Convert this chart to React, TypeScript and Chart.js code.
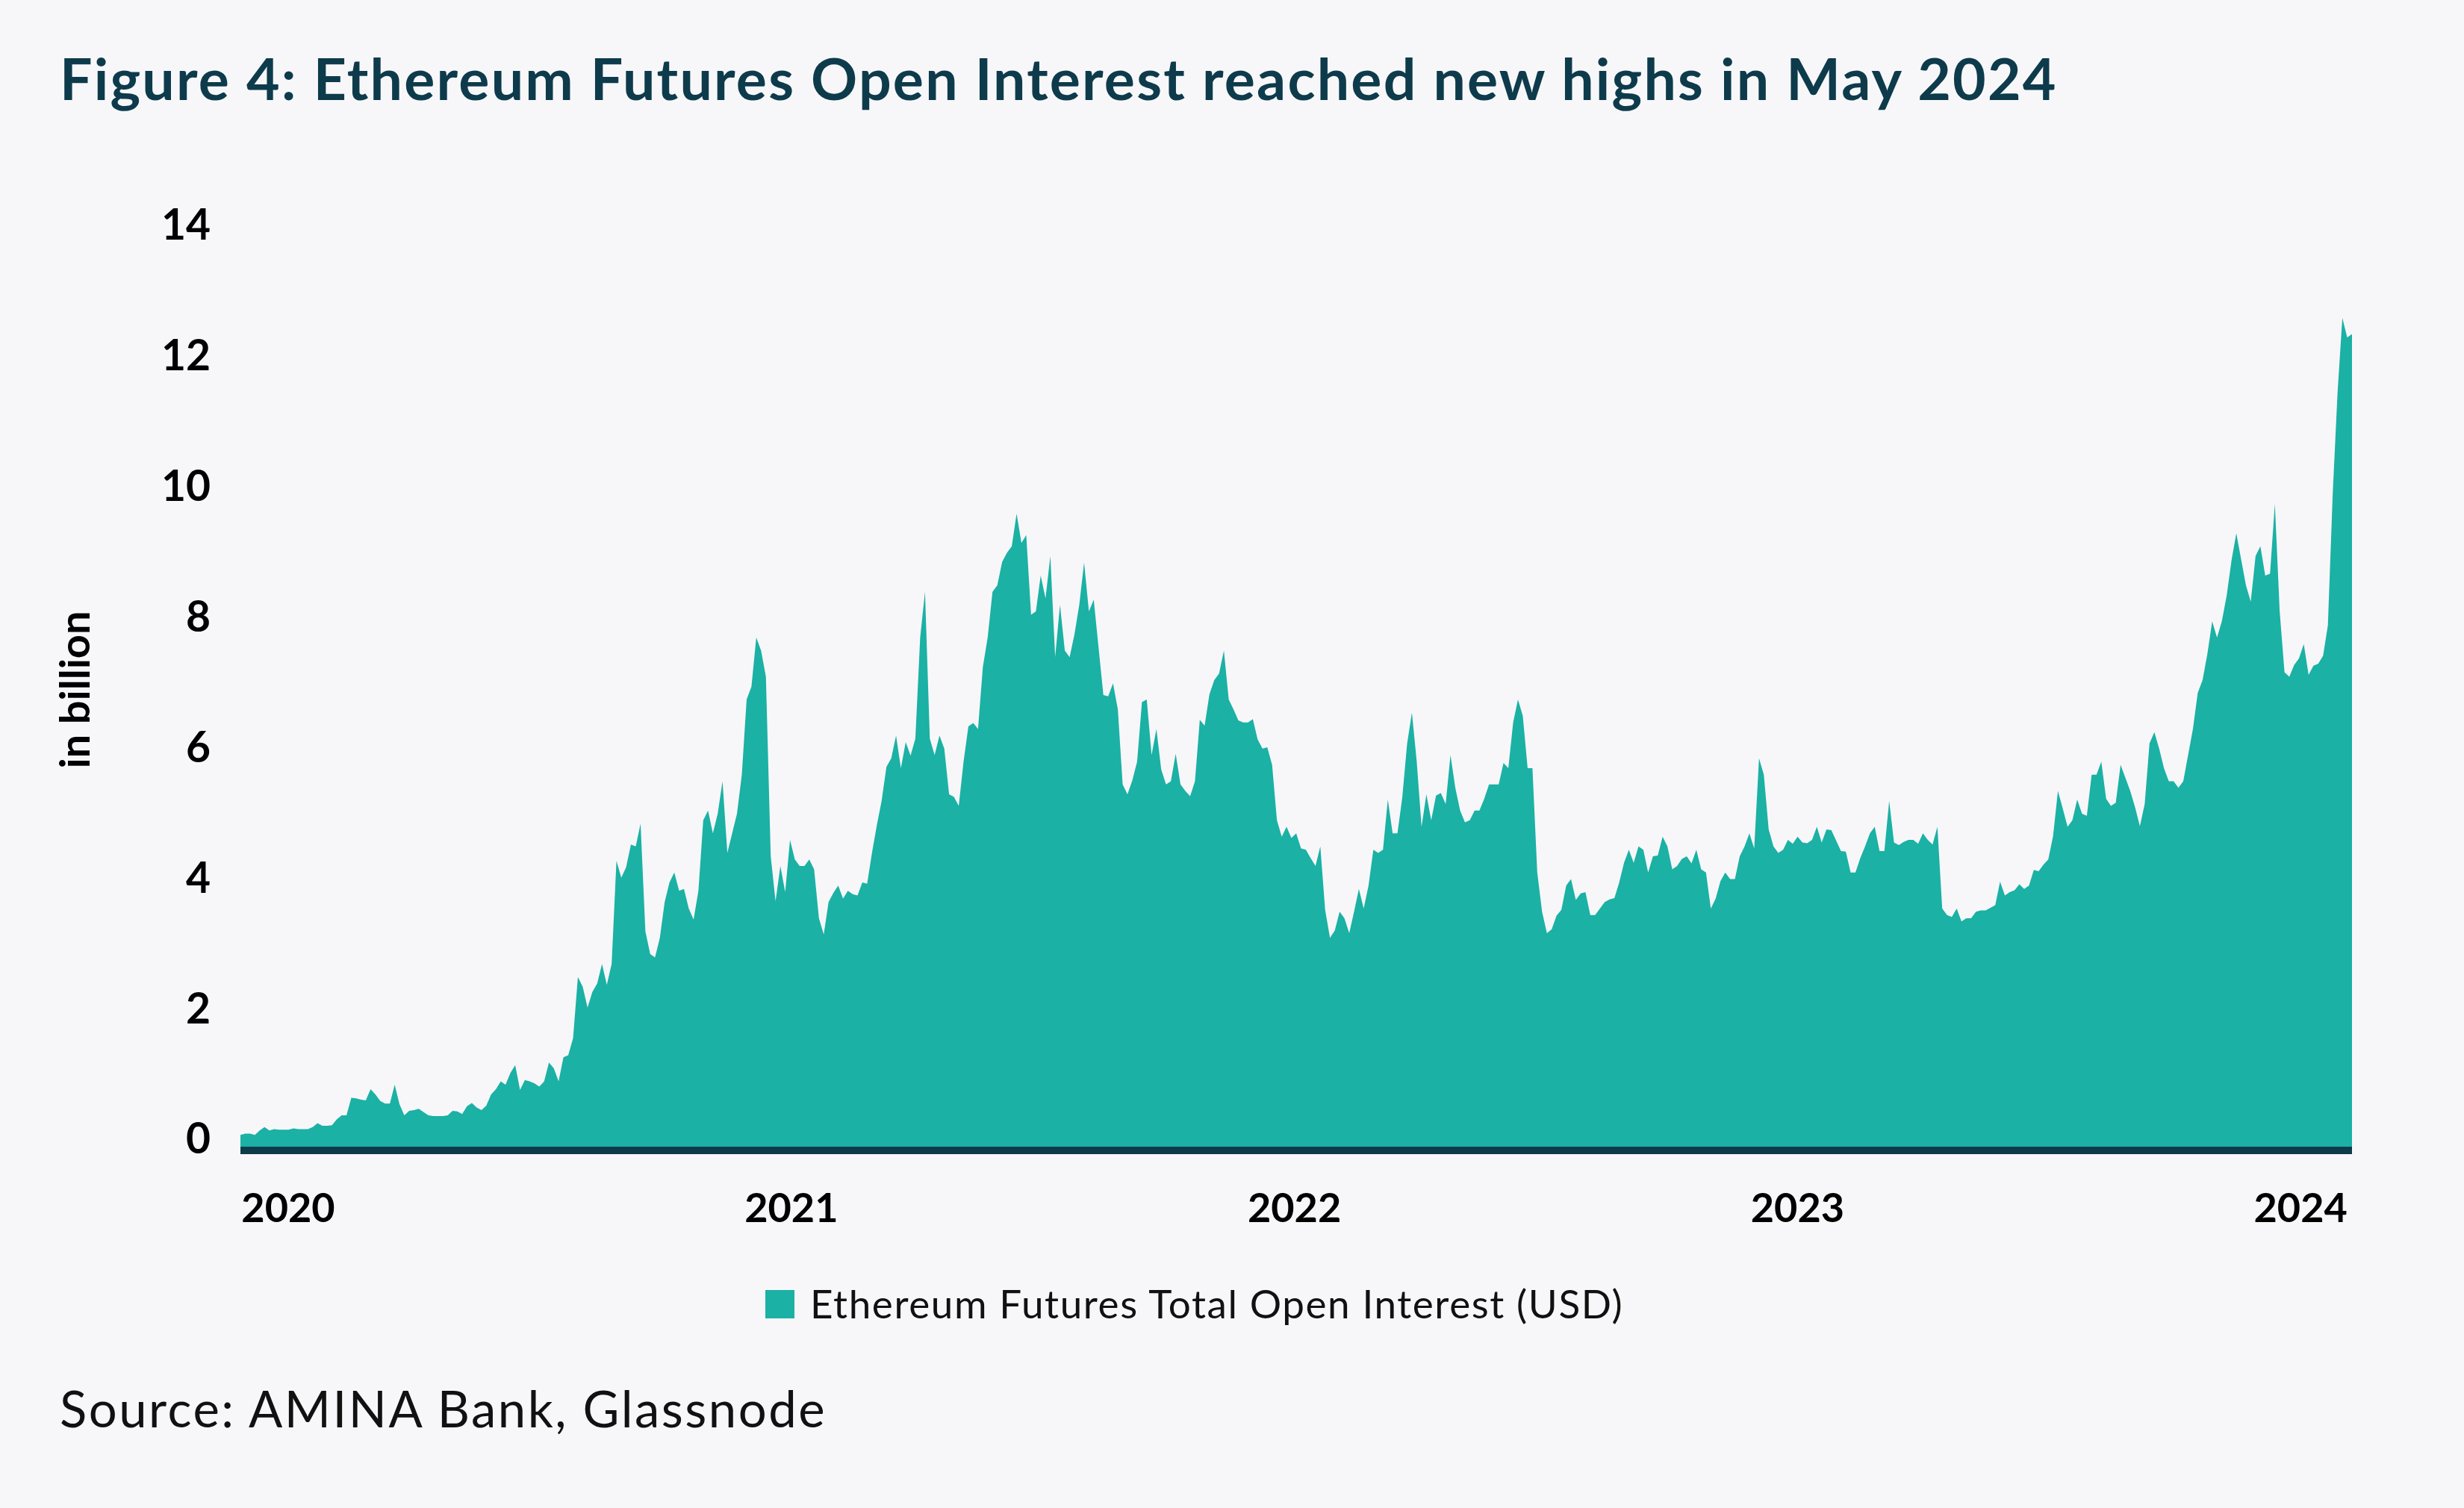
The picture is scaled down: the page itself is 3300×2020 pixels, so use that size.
import React, { useEffect, useRef } from "react";
import { Chart, registerables } from "chart.js";
Chart.register(...registerables);

const TITLE = "Figure 4: Ethereum Futures Open Interest reached new highs in May 2024";
const SERIES_LABEL = "Ethereum Futures Total Open Interest (USD)";
const SOURCE = "Source: AMINA Bank, Glassnode";
const Y_TITLE = "in billion";

// half-weekly samples (every 3.5 days), in USD billion
const startYear = 2019.905;
const stepYears = 3.5 / 365.25;
const yearTicks = [2020, 2021, 2022, 2023, 2024];
const yMin = 0;
const yMax = 14;
const yStep = 2;

const openInterest = [
  0.18, 0.20, 0.20, 0.18, 0.25, 0.30, 0.25, 0.27, 0.26, 0.26,
  0.26, 0.28, 0.27, 0.27, 0.27, 0.30, 0.36, 0.32, 0.32, 0.33,
  0.42, 0.48, 0.48, 0.75, 0.74, 0.72, 0.71, 0.88, 0.80, 0.70,
  0.66, 0.66, 0.95, 0.65, 0.48, 0.55, 0.56, 0.58, 0.53, 0.48,
  0.47, 0.47, 0.47, 0.48, 0.55, 0.54, 0.50, 0.62, 0.67, 0.60,
  0.56, 0.63, 0.80, 0.88, 1.00, 0.95, 1.13, 1.25, 0.87, 1.02,
  1.00, 0.97, 0.92, 1.00, 1.29, 1.20, 1.00, 1.37, 1.40, 1.66,
  2.60, 2.45, 2.13, 2.37, 2.50, 2.80, 2.48, 2.80, 4.38, 4.12,
  4.28, 4.63, 4.60, 4.95, 3.30, 2.95, 2.90, 3.20, 3.75, 4.05,
  4.20, 3.92, 3.95, 3.65, 3.48, 3.92, 5.00, 5.15, 4.80, 5.10,
  5.60, 4.50, 4.80, 5.10, 5.70, 6.85, 7.05, 7.80, 7.60, 7.20,
  4.45, 3.76, 4.30, 3.90, 4.70, 4.40, 4.30, 4.30, 4.40, 4.25,
  3.50, 3.25, 3.75, 3.89, 4.00, 3.80, 3.92, 3.87, 3.85, 4.05,
  4.03, 4.50, 4.92, 5.30, 5.82, 5.95, 6.30, 5.80, 6.20, 5.99,
  6.25, 7.80, 8.50, 6.25, 6.00, 6.30, 6.10, 5.40, 5.36, 5.22,
  5.90, 6.44, 6.49, 6.40, 7.35, 7.80, 8.50, 8.60, 8.96, 9.10,
  9.20, 9.70, 9.25, 9.37, 8.15, 8.20, 8.75, 8.40, 9.05, 7.50,
  8.30, 7.60, 7.50, 7.85, 8.30, 8.95, 8.20, 8.38, 7.65, 6.92,
  6.90, 7.10, 6.70, 5.55, 5.40, 5.61, 5.90, 6.81, 6.85, 6.00,
  6.40, 5.78, 5.55, 5.60, 6.02, 5.55, 5.45, 5.37, 5.60, 6.54,
  6.45, 6.93, 7.15, 7.25, 7.60, 6.85, 6.70, 6.53, 6.50, 6.50,
  6.55, 6.24, 6.10, 6.12, 5.85, 5.00, 4.75, 4.90, 4.73, 4.80,
  4.57, 4.55, 4.42, 4.30, 4.60, 3.63, 3.20, 3.31, 3.60, 3.50,
  3.27, 3.60, 3.95, 3.65, 4.00, 4.55, 4.50, 4.55, 5.32, 4.80,
  4.80, 5.35, 6.17, 6.65, 5.90, 4.90, 5.40, 5.00, 5.38, 5.42,
  5.25, 6.00, 5.50, 5.15, 4.97, 5.00, 5.15, 5.15, 5.33, 5.55,
  5.55, 5.55, 5.88, 5.80, 6.50, 6.85, 6.60, 5.80, 5.80, 4.20,
  3.60, 3.27, 3.33, 3.54, 3.63, 4.00, 4.10, 3.78, 3.88, 3.90,
  3.55, 3.55, 3.65, 3.75, 3.79, 3.81, 4.05, 4.35, 4.55, 4.35,
  4.60, 4.55, 4.20, 4.45, 4.46, 4.75, 4.60, 4.25, 4.30, 4.41,
  4.45, 4.34, 4.55, 4.25, 4.20, 3.65, 3.80, 4.07, 4.20, 4.10,
  4.10, 4.45, 4.60, 4.80, 4.57, 5.95, 5.70, 4.86, 4.60, 4.50,
  4.55, 4.70, 4.64, 4.75, 4.66, 4.65, 4.70, 4.90, 4.66, 4.86,
  4.85, 4.69, 4.53, 4.52, 4.20, 4.20, 4.42, 4.60, 4.80, 4.90,
  4.53, 4.53, 5.30, 4.66, 4.62, 4.67, 4.70, 4.70, 4.64, 4.80,
  4.70, 4.63, 4.90, 3.65, 3.55, 3.52, 3.65, 3.45, 3.50, 3.50,
  3.60, 3.62, 3.62, 3.66, 3.70, 4.06, 3.85, 3.90, 3.93, 4.02,
  3.95, 4.00, 4.24, 4.22, 4.32, 4.40, 4.76, 5.45, 5.18, 4.90,
  5.00, 5.32, 5.10, 5.07, 5.70, 5.70, 5.90, 5.33, 5.22, 5.27,
  5.85, 5.65, 5.45, 5.20, 4.91, 5.25, 6.18, 6.35, 6.10, 5.80,
  5.60, 5.60, 5.50, 5.60, 6.00, 6.40, 6.95, 7.15, 7.55, 8.05,
  7.80, 8.05, 8.44, 8.98, 9.40, 9.00, 8.60, 8.35, 9.05, 9.20,
  8.75, 8.78, 9.85, 8.20, 7.27, 7.20, 7.38, 7.48, 7.70, 7.23,
  7.37, 7.40, 7.52, 7.99, 10.00, 11.55, 12.70, 12.40, 12.45,
];

const BG = "#f7f7f9";
const TEAL = "#1bb1a5";
const DARK = "#0e3b4b";
const FONT = "Lato, 'Open Sans', sans-serif";

export default function App() {
  const ref = useRef<HTMLCanvasElement>(null);

  useEffect(() => {
    document.body.style.margin = "0";
    document.body.style.background = BG;
    const data = openInterest.map((v, i) => ({ x: startYear + i * stepYears, y: v }));
    const lastX = startYear + (openInterest.length - 1) * stepYears;

    const axisLine = {
      id: "axisLine",
      afterDatasetsDraw(chart: any) {
        const { ctx, chartArea: a } = chart;
        ctx.save();
        ctx.fillStyle = DARK;
        ctx.fillRect(a.left, a.bottom, a.right - a.left, 10);
        ctx.restore();
      },
    };

    const chart = new Chart(ref.current as HTMLCanvasElement, {
      type: "line",
      data: {
        datasets: [
          {
            label: SERIES_LABEL,
            data,
            fill: "origin",
            backgroundColor: TEAL,
            borderColor: TEAL,
            borderWidth: 0,
            pointRadius: 0,
            tension: 0,
          },
        ],
      },
      options: {
        animation: false,
        responsive: false,
        maintainAspectRatio: false,
        layout: { padding: { left: 0, right: 150, top: 312, bottom: 0 } },
        plugins: { legend: { display: false }, tooltip: { enabled: false } },
        scales: {
          x: {
            type: "linear",
            min: startYear,
            max: lastX,
            grid: { display: false, drawTicks: false },
            border: { display: false },
            afterBuildTicks: (s: any) => {
              s.ticks = yearTicks.map((v) => ({ value: v }));
            },
            afterFit: (s: any) => {
              s.height = 164;
            },
            ticks: {
              autoSkip: false,
              maxRotation: 0,
              padding: 51,
              color: "#000",
              font: { family: FONT, size: 54, weight: "bold" },
              callback: (v: any) => String(v),
            },
          },
          y: {
            min: yMin,
            max: yMax,
            grid: { display: false, drawTicks: false },
            border: { display: false },
            afterFit: (s: any) => {
              s.width = 322;
            },
            ticks: {
              stepSize: yStep,
              padding: 40,
              labelOffset: -9,
              color: "#000",
              font: { family: FONT, size: 57, weight: "bold" },
            },
            title: {
              display: true,
              text: Y_TITLE,
              color: "#000",
              font: { family: FONT, size: 56, weight: "bold" },
              padding: { top: 68, bottom: 0 },
            },
          },
        },
      },
      plugins: [axisLine],
    });
    return () => chart.destroy();
  }, []);

  return (
    <div style={{ position: "relative", width: 3300, height: 2020, background: BG, overflow: "hidden", fontFamily: FONT }}>
      <div style={{ position: "absolute", left: 80, top: 66, fontSize: 77, lineHeight: 1, fontWeight: 700, letterSpacing: 2.2, color: DARK, whiteSpace: "nowrap" }}>
        {TITLE}
      </div>
      <canvas ref={ref} width={3300} height={1700} style={{ position: "absolute", left: 0, top: 0, width: 3300, height: 1700 }} />
      <div style={{ position: "absolute", left: 1025, top: 1728, width: 39, height: 38, background: TEAL }} />
      <div style={{ position: "absolute", left: 1085, top: 1719, fontSize: 53, lineHeight: 1, letterSpacing: 1.6, color: "#111", whiteSpace: "nowrap" }}>
        {SERIES_LABEL}
      </div>
      <div style={{ position: "absolute", left: 80, top: 1853, fontSize: 67, lineHeight: 1, letterSpacing: 2.5, color: "#111", whiteSpace: "nowrap" }}>
        {SOURCE}
      </div>
    </div>
  );
}
